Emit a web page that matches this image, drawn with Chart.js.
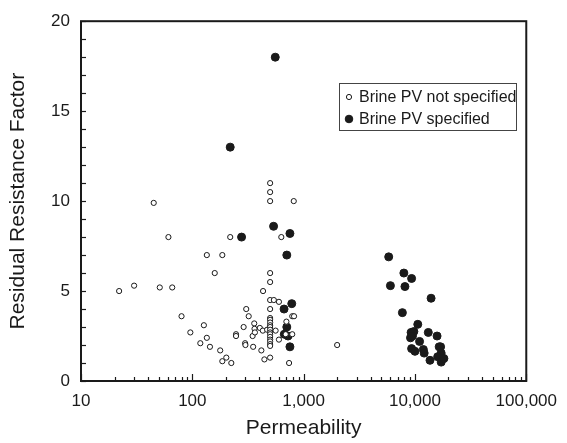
<!DOCTYPE html>
<html>
<head>
<meta charset="utf-8">
<script src="https://cdn.jsdelivr.net/npm/chart.js@4"></script>
<style>
  html, body { margin: 0; padding: 0; background: #fff; }
  #wrap { width: 567px; height: 443px; position: relative; }
</style>
</head>
<body>
<div id="wrap"><canvas id="rrf"></canvas></div>
<script>
// Brine PV not specified (open circles): [permeability, RRF]
const notSpecK = [22, 30, 45, 51, 61, 66, 80, 96, 118, 127, 135, 135, 144, 159, 178, 186, 186, 202, 219, 224,
  247, 247, 289, 298, 305, 300, 321, 348, 352, 360, 362, 365, 404, 417, 432, 430, 444, 470,
  500, 500, 500, 500, 500, 500, 500, 500, 500, 500, 500, 500, 500, 500, 500, 500, 500, 500, 500, 500, 500,
  540, 560, 600, 600, 630, 700, 690, 740, 790, 790, 820, 815, 2000];
const notSpecRRF = [5.0, 5.3, 9.9, 5.2, 8.0, 5.2, 3.6, 2.7, 2.1, 3.1, 7.0, 2.4, 1.9, 6.0, 1.7, 7.0, 1.1, 1.3, 8.0, 1.0,
  2.6, 2.5, 3.0, 2.1, 4.0, 2.0, 3.6, 2.5, 1.9, 3.2, 2.9, 2.7, 2.95, 1.7, 5.0, 2.8, 1.2, 2.85,
  11.0, 10.5, 10.0, 6.0, 5.5, 4.5, 4.0, 3.5, 3.4, 3.25, 3.1, 3.0, 2.85, 2.7, 2.6, 2.45, 2.3, 2.2, 2.05, 1.95, 1.3,
  4.5, 2.8, 4.4, 2.3, 8.0, 3.3, 2.6, 1.0, 2.6, 3.6, 3.6, 10.0, 2.0];

// Brine PV specified (filled circles)
const specK = [556, 219, 277, 537, 753, 706, 782, 667, 706, 670, 724, 753,
  5810, 6020, 7950, 8130, 9330, 7710, 13960, 10600, 9230, 9780, 9120, 13180, 15800, 11000,
  9330, 10000, 11900, 12100, 13650, 16500, 17000, 17200, 16000, 17200, 18200, 9500];
const specRRF = [18.0, 13.0, 8.0, 8.6, 8.2, 7.0, 4.3, 4.0, 3.0, 2.6, 2.5, 1.9,
  6.9, 5.3, 6.0, 5.25, 5.7, 3.8, 4.6, 3.15, 2.7, 2.75, 2.4, 2.7, 2.5, 2.2,
  1.8, 1.65, 1.75, 1.55, 1.15, 1.9, 1.9, 1.55, 1.35, 1.05, 1.25, 2.5];

const seriesNames = ['Brine PV not specified', 'Brine PV specified'];
const xTickValues = [10, 100, 1000, 10000, 100000];
const yTickLabels = [0, 5, 10, 15, 20];

const ink = '#1a1a1a';
const FONT = 'Liberation Sans, Arial, sans-serif';

function toPoints(xs, ys) {
  return xs.map((x, i) => ({ x: x, y: ys[i] }));
}

// inward ticks, frame and in-plot legend
const framePlugin = {
  id: 'frame',
  afterDraw(chart) {
    const ctx = chart.ctx;
    const a = chart.chartArea;
    const xs = chart.scales.x, ys = chart.scales.y;
    ctx.save();
    ctx.strokeStyle = ink;
    ctx.lineWidth = 1.2;
    xs.ticks.forEach(t => {
      const px = Math.round(xs.getPixelForValue(t.value)) + 0.5;
      const major = xTickValues.includes(t.value);
      ctx.beginPath();
      ctx.moveTo(px, a.bottom);
      ctx.lineTo(px, a.bottom - (major ? 7 : 4));
      ctx.stroke();
    });
    ys.ticks.forEach(t => {
      const py = Math.round(ys.getPixelForValue(t.value)) + 0.5;
      ctx.beginPath();
      ctx.moveTo(a.left, py);
      ctx.lineTo(a.left + 5, py);
      ctx.stroke();
    });
    ctx.lineWidth = 2;
    ctx.strokeRect(a.left, a.top, a.right - a.left, a.bottom - a.top);

    // legend box
    const lx = 339, ly = 83, lw = 177, lh = 47;
    ctx.lineWidth = 1;
    ctx.strokeStyle = '#444';
    ctx.fillStyle = '#fff';
    ctx.fillRect(lx, ly, lw, lh);
    ctx.strokeRect(lx + 0.5, ly + 0.5, lw, lh);
    ctx.font = '16px ' + FONT;
    ctx.textBaseline = 'middle';
    const rows = [ly + 14, ly + 36];
    chart.data.datasets.forEach((ds, i) => {
      const cy = rows[i];
      ctx.beginPath();
      ctx.arc(lx + 10, cy, i === 0 ? 2.6 : 3.8, 0, Math.PI * 2);
      ctx.lineWidth = 1;
      ctx.strokeStyle = ink;
      if (i === 1) { ctx.fillStyle = ink; ctx.fill(); }
      ctx.stroke();
      ctx.fillStyle = ink;
      ctx.fillText(ds.label, lx + 20, cy + 1);
    });
    ctx.restore();
  }
};

const config = {
  type: 'scatter',
  data: {
    datasets: [
      {
        label: seriesNames[0],
        data: toPoints(notSpecK, notSpecRRF),
        pointStyle: 'circle',
        pointRadius: 2.6,
        borderWidth: 1,
        borderColor: ink,
        backgroundColor: '#fff'
      },
      {
        label: seriesNames[1],
        data: toPoints(specK, specRRF),
        pointStyle: 'circle',
        pointRadius: 4,
        borderWidth: 1,
        borderColor: ink,
        backgroundColor: ink
      }
    ]
  },
  options: {
    responsive: true,
    maintainAspectRatio: false,
    animation: false,
    layout: { padding: { left: 6, top: 18, right: 29, bottom: 0 } },
    plugins: {
      legend: { display: false },
      tooltip: { enabled: false }
    },
    scales: {
      x: {
        type: 'logarithmic',
        min: 10,
        max: 100000,
        afterBuildTicks(scale) {
          const t = [];
          for (let p = 10; p < 100000; p *= 10) {
            for (let m = 1; m <= 9; m++) t.push({ value: m * p });
          }
          t.push({ value: 100000 });
          scale.ticks = t;
        },
        afterFit(scale) { scale.height = 62; },
        grid: { display: false, drawTicks: false },
        border: { display: false },
        ticks: {
          autoSkip: false,
          maxRotation: 0,
          padding: 10,
          color: ink,
          font: { family: FONT, size: 17 },
          callback: v => xTickValues.includes(v) ? v.toLocaleString('en-US') : ''
        },
        title: {
          display: true,
          text: 'Permeability',
          color: ink,
          font: { family: FONT, size: 21 },
          padding: { top: 0, bottom: 2 }
        }
      },
      y: {
        min: 0,
        max: 20,
        afterFit(scale) { scale.width = 75; },
        grid: { display: false, drawTicks: false },
        border: { display: false },
        ticks: {
          stepSize: 1,
          autoSkip: false,
          padding: 11,
          color: ink,
          font: { family: FONT, size: 17 },
          callback: v => yTickLabels.includes(v) ? String(v) : ''
        },
        title: {
          display: true,
          text: 'Residual Resistance Factor',
          color: ink,
          font: { family: FONT, size: 21 },
          padding: { top: 0, bottom: 0 }
        }
      }
    }
  },
  plugins: [framePlugin]
};

const rrfChart = new Chart(document.getElementById('rrf'), config);
</script>
</body>
</html>
